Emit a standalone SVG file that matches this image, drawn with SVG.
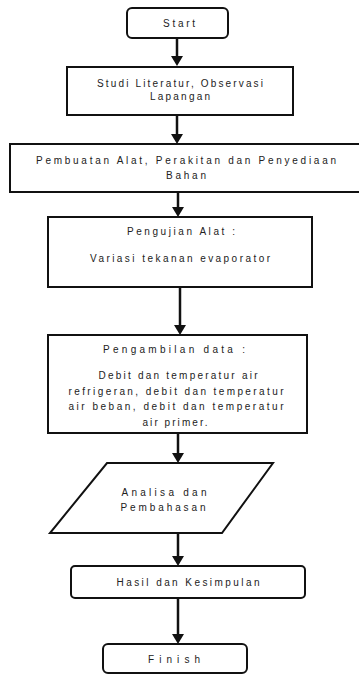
<svg xmlns="http://www.w3.org/2000/svg" width="359" height="676" viewBox="0 0 359 676">
<style>
.b{fill:#fff;stroke:#111;stroke-width:2}
.t{font-family:"Liberation Sans",Arial,sans-serif;font-size:10px;fill:#222;text-anchor:middle}
.c{stroke:#111;stroke-width:2.5;fill:none}
.h{fill:#111}
</style>
<rect width="359" height="676" fill="#fff"/>
<g id="connectors">
<line class="c" x1="177" y1="38" x2="177" y2="58"/><polygon class="h" points="171,56 183,56 177,66"/>
<line class="c" x1="177" y1="115" x2="177" y2="136"/><polygon class="h" points="171,134 183,134 177,144"/>
<line class="c" x1="178" y1="192" x2="178" y2="209"/><polygon class="h" points="172,207 184,207 178,217"/>
<line class="c" x1="180" y1="287" x2="180" y2="327"/><polygon class="h" points="174,325 186,325 180,335"/>
<line class="c" x1="178" y1="433" x2="178" y2="455"/><polygon class="h" points="172,453 184,453 178,463"/>
<line class="c" x1="178" y1="533" x2="178" y2="558"/><polygon class="h" points="172,556 184,556 178,566"/>
<line class="c" x1="178" y1="598" x2="178" y2="636"/><polygon class="h" points="172,634 184,634 178,644"/>
</g>
<g id="start"><rect class="b" x="127" y="8" width="101" height="30" rx="5"/><text class="t" x="179" y="27" textLength="32">Start</text></g>
<g id="studi"><rect class="b" x="67" y="67" width="226" height="48"/><text class="t" x="180" y="87" textLength="166">Studi Literatur,  Observasi</text><text class="t" x="180" y="100" textLength="60">Lapangan</text></g>
<g id="pembuatan"><rect class="b" x="10" y="144" width="352" height="48"/><text class="t" x="186" y="164" textLength="300">Pembuatan Alat, Perakitan  dan Penyediaan</text><text class="t" x="186" y="179" textLength="40">Bahan</text></g>
<g id="pengujian"><rect class="b" x="48" y="217" width="264" height="70"/><text class="t" x="181" y="235" textLength="108">Pengujian Alat :</text><text class="t" x="180" y="262" textLength="180">Variasi tekanan  evaporator</text></g>
<g id="pengambilan"><rect class="b" x="48" y="335" width="259" height="98"/><text class="t" x="174" y="353" textLength="142">Pengambilan data :</text><text class="t" x="178" y="379" textLength="159">Debit dan temperatur  air</text><text class="t" x="176" y="395" textLength="215">refrigeran,  debit  dan temperatur</text><text class="t" x="176" y="410" textLength="215">air beban,  debit  dan temperatur</text><text class="t" x="175" y="426" textLength="65">air primer.</text></g>
<g id="analisa"><polygon class="b" points="107,463 273,463 222,533 50,533"/><text class="t" x="164" y="496" textLength="85">Analisa dan</text><text class="t" x="163" y="511" textLength="85">Pembahasan</text></g>
<g id="hasil"><rect class="b" x="71" y="566" width="234" height="32" rx="4"/><text class="t" x="188" y="586" textLength="143">Hasil dan Kesimpulan</text></g>
<g id="finish"><rect class="b" x="103" y="644" width="144" height="29" rx="5"/><text class="t" x="174" y="663" textLength="52">Finish</text></g>
</svg>
